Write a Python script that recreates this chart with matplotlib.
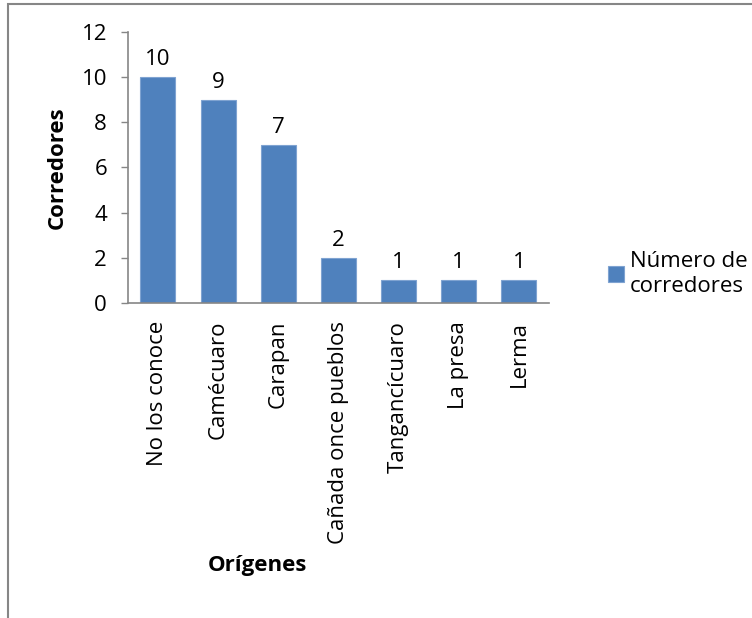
import matplotlib.pyplot as plt
from matplotlib.patches import Rectangle

# datos del gráfico
origenes = ["No los conoce", "Camécuaro", "Carapan", "Cañada once pueblos",
            "Tangancícuaro", "La presa", "Lerma"]
corredores = [10, 9, 7, 2, 1, 1, 1]
serie = "Número de\ncorredores"

plt.rcParams["font.family"] = ["Open Sans", "DejaVu Sans"]
fs = 16

fig = plt.figure(figsize=(7.52, 6.18), dpi=100)
ax = fig.add_axes([0.170, 0.510, 0.560, 0.438])

gris = "#868686"
azul = "#4F81BD"

barras = ax.bar(origenes, corredores, width=0.58, color=azul,
                edgecolor="#7FA3D1", linewidth=0.8, label=serie)
for b, v in zip(barras, corredores):
    ax.annotate(str(v), (b.get_x() + b.get_width() / 2, v),
                xytext=(0, 5), textcoords="offset points",
                ha="center", va="bottom", fontsize=fs)

ax.set_xlim(-0.5, len(origenes) - 0.5)
ax.set_ylim(0, 12)
ax.set_yticks(range(0, 13, 2))
ax.tick_params(axis="y", direction="out", length=5, width=1, color=gris,
               labelsize=fs, pad=10)
ax.tick_params(axis="x", length=0, labelsize=fs, pad=13, labelrotation=90)
for lbl in ax.get_xticklabels():
    lbl.set_va("top")

for s in ["top", "right"]:
    ax.spines[s].set_visible(False)
for s in ["left", "bottom"]:
    ax.spines[s].set_color(gris)
    ax.spines[s].set_linewidth(1.2)

ax.set_ylabel("Corredores", fontsize=fs, fontweight="bold", labelpad=10)
fig.text(257 / 752, 1 - 565 / 618, "Orígenes", ha="center", va="center",
         fontsize=fs, fontweight="bold")

leg = fig.legend(handles=[barras], labels=[serie], loc="center left",
                 bbox_to_anchor=(608 / 752, 1 - 274 / 618), frameon=False,
                 fontsize=fs, handlelength=0.7, handleheight=0.7,
                 handletextpad=0.3, borderpad=0, borderaxespad=0)

# marco del área del gráfico
fig.patches.append(Rectangle((8 / 752, -0.05), 1.2, 1 - 4 / 618 + 0.05,
                             transform=fig.transFigure, fill=False,
                             edgecolor=gris, linewidth=1.5))

fig.savefig("out.png", dpi=100)
